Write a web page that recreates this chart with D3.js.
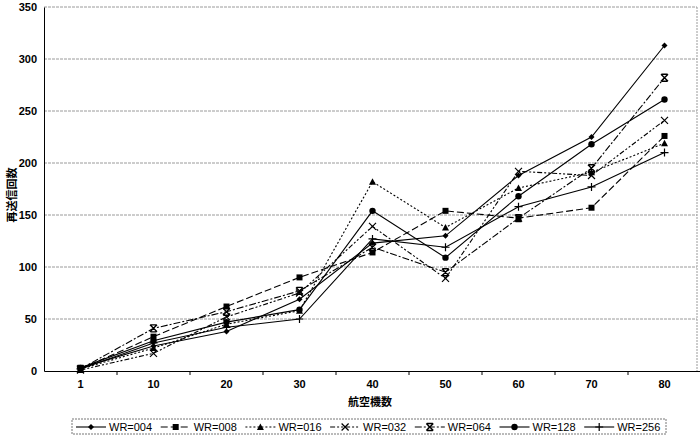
<!DOCTYPE html>
<html><head><meta charset="utf-8">
<script src="https://cdn.jsdelivr.net/npm/d3@7"></script>
<style>body{margin:0;background:#fff}svg{display:block}text{font-family:"Liberation Sans",Arial,sans-serif}</style>
</head><body><svg id="c" width="700" height="437"></svg>
<script>
const categories = ["1","10","20","30","40","50","60","70","80"];
const seriesNames = ["WR=004","WR=008","WR=016","WR=032","WR=064","WR=128","WR=256"];
const wr004 = [3, 24, 38, 69, 123, 130, 188, 225, 313];
const wr008 = [2, 33, 62, 90, 114, 154, 147, 157, 226];
const wr016 = [2, 22, 45, 58, 182, 138, 176, 191, 219];
const wr032 = [1, 17, 52, 75, 139, 89, 192, 188, 241];
const wr064 = [2, 41, 57, 77, 119, 95, 147, 195, 282];
const wr128 = [3, 29, 47, 59, 154, 109, 168, 218, 261];
const wr256 = [2, 27, 42, 50, 127, 119, 158, 177, 210];
const yTicks = [0, 50, 100, 150, 200, 250, 300, 350];
const xTitle = "航空機数";
const yTitle = "再送信回数";

const seriesData = [wr004, wr008, wr016, wr032, wr064, wr128, wr256];
const dashes = [null, "7,3", "2,2", "5,2,2,2,2,2", "7,2,2,2", null, null];
const markers = ["diamond","square","triangle","x","asterisk","circle","plus"];

const svg = d3.select("#c");
const L = 44, R = 697, T = 7, B = 371;
const x = d3.scaleBand().domain(categories).range([L, L + 9*73]).paddingInner(0).paddingOuter(0);
const xc = d => x(d) + x.bandwidth()/2;
const y = d3.scaleLinear().domain([0, 350]).range([B, T]);

// grid
svg.append("g").selectAll("line").data(yTicks.filter(v => v > 0)).join("line")
  .attr("x1", L).attr("x2", R).attr("y1", d => y(d)).attr("y2", d => y(d))
  .attr("stroke", "#9a9a9a").attr("stroke-width", 1).attr("stroke-dasharray", "3,1");
// frame right
svg.append("line").attr("x1", R).attr("x2", R).attr("y1", T).attr("y2", B)
  .attr("stroke", "#9a9a9a").attr("stroke-dasharray", "2,1");

// y axis
const ya = svg.append("g").attr("transform", `translate(${L},0)`)
  .call(d3.axisLeft(y).tickValues(yTicks).tickSize(0).tickPadding(7));
ya.select(".domain").attr("stroke", "#000");
ya.selectAll("text").attr("font-size", 11).attr("font-weight", "bold").attr("fill", "#000");

// x axis
const xa = svg.append("g").attr("transform", `translate(0,${B})`)
  .call(d3.axisBottom(x).tickSize(0).tickPadding(9));
xa.select(".domain").attr("stroke", "#000");
xa.selectAll("text").attr("font-size", 11).attr("font-weight", "bold").attr("fill", "#000");
svg.append("g").selectAll("line").data(categories).join("line")
  .attr("x1", (d,i) => L + (i+1)*x.bandwidth()).attr("x2", (d,i) => L + (i+1)*x.bandwidth())
  .attr("y1", B).attr("y2", B + 4).attr("stroke", "#000");

// titles
svg.append("text").attr("x", 370).attr("y", 406).attr("text-anchor", "middle")
  .attr("font-size", 11).attr("font-weight", "bold").style("font-family", "'Noto Sans CJK JP',sans-serif").text(xTitle);
svg.append("text").attr("transform", "translate(16,195) rotate(-90)").attr("text-anchor", "middle")
  .attr("font-size", 11).attr("font-weight", "bold").style("font-family", "'Noto Sans CJK JP',sans-serif").text(yTitle);

function drawMarker(g, type, cx, cy) {
  const s = 3;
  if (type === "diamond") g.append("path").attr("d", `M${cx},${cy-s}L${cx+s},${cy}L${cx},${cy+s}L${cx-s},${cy}Z`).attr("fill", "#000");
  else if (type === "square") g.append("rect").attr("x", cx-3).attr("y", cy-3).attr("width", 6).attr("height", 6).attr("fill", "#000");
  else if (type === "triangle") g.append("path").attr("d", `M${cx},${cy-3.5}L${cx+3.5},${cy+3}L${cx-3.5},${cy+3}Z`).attr("fill", "#000");
  else if (type === "circle") g.append("circle").attr("cx", cx).attr("cy", cy).attr("r", 3.2).attr("fill", "#000");
  else if (type === "x") g.append("path").attr("d", `M${cx-3.5},${cy-3.5}L${cx+3.5},${cy+3.5}M${cx+3.5},${cy-3.5}L${cx-3.5},${cy+3.5}`).attr("stroke", "#000").attr("stroke-width", 1.2);
  else if (type === "asterisk") g.append("path").attr("d", `M${cx-3.5},${cy-3.5}L${cx+3.5},${cy+3.5}M${cx+3.5},${cy-3.5}L${cx-3.5},${cy+3.5}M${cx-3},${cy-3.5}L${cx+3},${cy-3.5}M${cx-3},${cy+3.5}L${cx+3},${cy+3.5}`).attr("stroke", "#000").attr("stroke-width", 1.4);
  else if (type === "plus") g.append("path").attr("d", `M${cx-4},${cy}L${cx+4},${cy}M${cx},${cy-4}L${cx},${cy+4}`).attr("stroke", "#000").attr("stroke-width", 1.2);
}

const line = d3.line().x((d,i) => xc(categories[i])).y(d => y(d));
seriesData.forEach((vals, si) => {
  const g = svg.append("g");
  g.append("path").datum(vals).attr("d", line).attr("fill", "none").attr("stroke", "#000")
    .attr("stroke-width", 1.1).attr("stroke-dasharray", dashes[si]);
  vals.forEach((v, i) => drawMarker(g, markers[si], xc(categories[i]), y(v)));
});

// legend
const lg = svg.append("g");
lg.append("rect").attr("x", 72).attr("y", 419).attr("width", 594).attr("height", 15)
  .attr("fill", "#fff").attr("stroke", "#777").attr("stroke-dasharray", "2,1");
seriesNames.forEach((n, i) => {
  const x0 = 76 + i * 84.7;
  lg.append("line").attr("x1", x0).attr("x2", x0 + 30).attr("y1", 427).attr("y2", 427)
    .attr("stroke", "#000").attr("stroke-width", 1.1).attr("stroke-dasharray", dashes[i]);
  drawMarker(lg, markers[i], x0 + 15, 427);
  lg.append("text").attr("x", x0 + 33).attr("y", 431).attr("font-size", 11).attr("fill", "#000").text(n);
});
</script></body></html>
